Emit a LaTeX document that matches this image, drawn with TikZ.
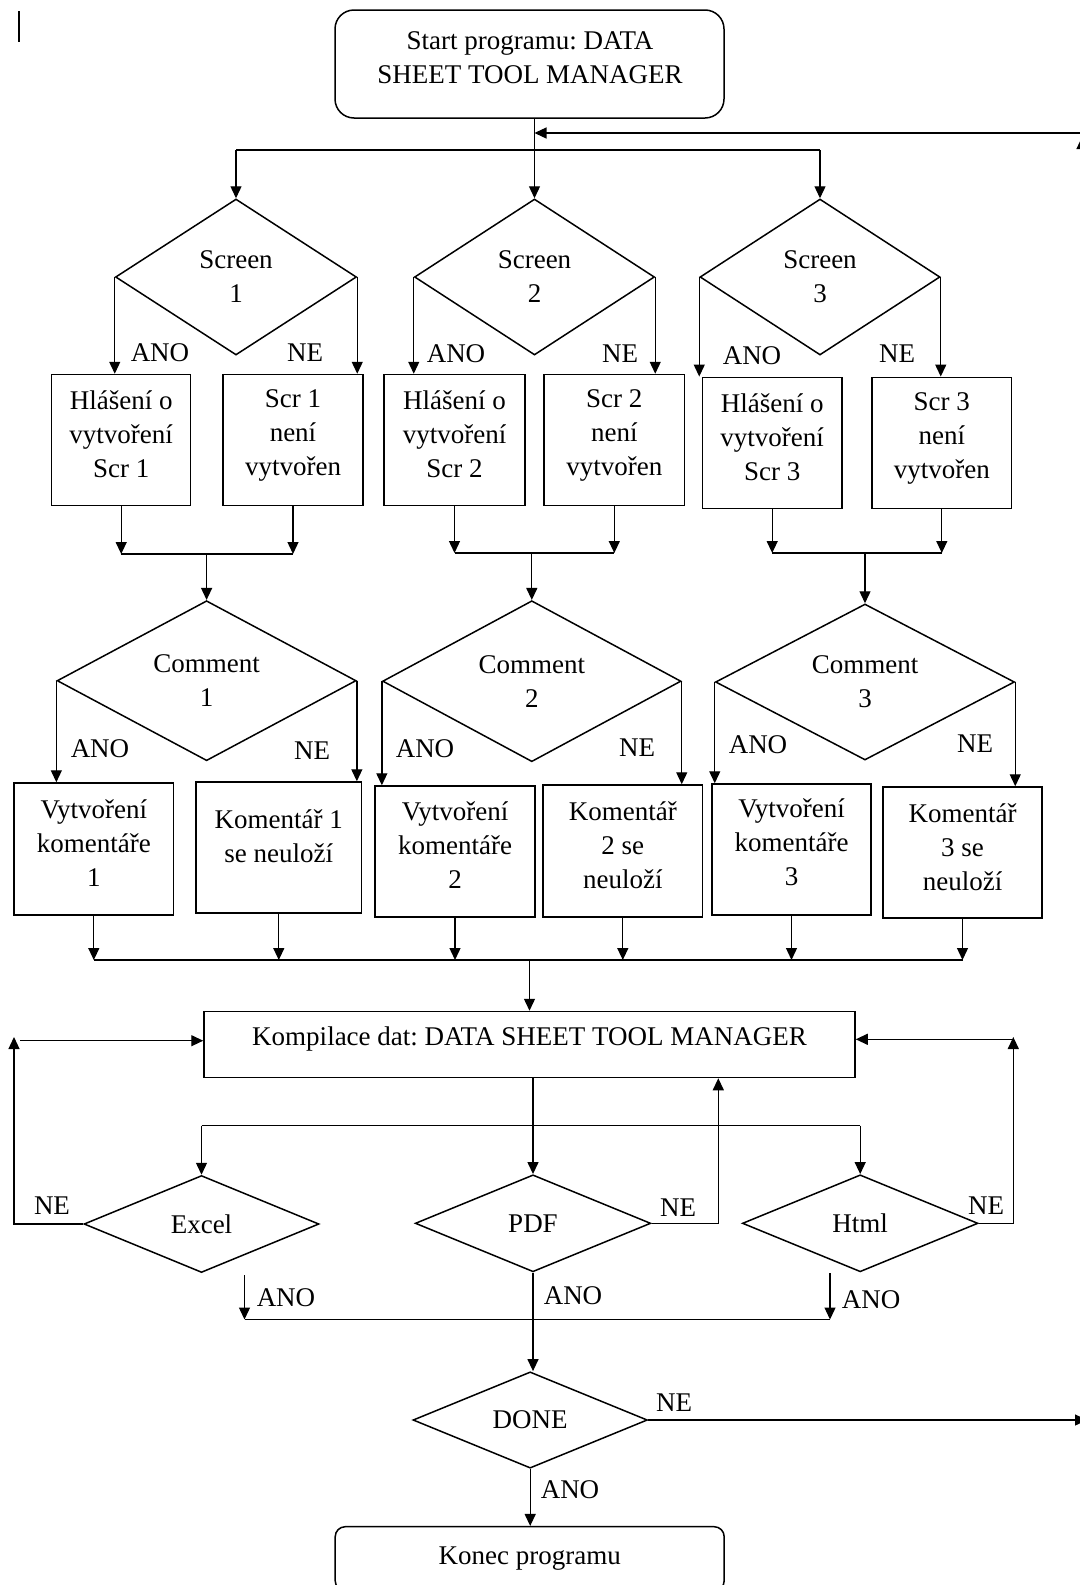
\documentclass[tikz,border=0pt]{standalone}
\usepackage{fontspec}
\setmainfont{Liberation Serif}
\usetikzlibrary{arrows.meta,shapes.geometric}
\frenchspacing
\begin{document}
\begin{tikzpicture}[x=0.5pt,y=-0.5pt,
  font=\fontsize{13.5pt}{17pt}\selectfont,
  ln/.style={line width=0.65pt},
  arr/.style={line width=0.65pt,-{Triangle[length=6pt,width=5.5pt]}},
  boxs/.style 2 args={draw,line width=0.75pt,rectangle,minimum width=#1*0.5pt,minimum height=#2*0.5pt,inner sep=0pt},
  rbox/.style 2 args={boxs={#1}{#2},rounded corners=9.5pt},
  dia/.style 2 args={draw,line width=0.75pt,diamond,aspect=2,inner sep=0pt,minimum width=#1*0.5pt,minimum height=#2*0.5pt,align=center},
  txt/.style={align=center,inner sep=0pt},
  lbl/.style={inner sep=0pt},
]
\useasboundingbox (0,0) rectangle (1080,1585);
\fill[white] (0,0) rectangle (1080,1585);
\clip (0,0) rectangle (1080,1585);

% stray cursor mark
\coordinate (cur1) at (18.5,11);
\coordinate (cur2) at (18.5,42);
\draw[line width=1pt] (cur1) -- (cur2);

% start
\node[rbox={389}{108}] (start) at (529.5,64) {};
\node[txt] (tstart) at (530,57.5) {Start programu: DATA\\SHEET TOOL MANAGER};

% screen diamonds
\node[dia={241}{156}] (s1) at (236,277) {Screen\\1};
\node[dia={240}{156}] (s2) at (534.5,277) {Screen\\2};
\node[dia={240}{156}] (s3) at (820,277) {Screen\\3};

% row 1 boxes
\node[boxs={139}{131}] (b1a) at (121.2,440) {};
\node[txt] (tb1a) at (121.2,434) {Hlášení o\\vytvoření\\Scr 1};
\node[boxs={140}{131}] (b1b) at (293,440) {};
\node[txt] (tb1b) at (293,435) {Scr 1\\není\\vytvořen};
\node[boxs={141}{131}] (b2a) at (454.5,440) {};
\node[txt] (tb2a) at (454.5,434) {Hlášení o\\vytvoření\\Scr 2};
\node[boxs={140.6}{131}] (b2b) at (614.3,440) {};
\node[txt] (tb2b) at (614.3,435) {Scr 2\\není\\vytvořen};
\node[boxs={139.5}{131}] (b3a) at (772.2,442.8) {};
\node[txt] (tb3a) at (772.2,437) {Hlášení o\\vytvoření\\Scr 3};
\node[boxs={139.7}{131}] (b3b) at (941.8,442.8) {};
\node[txt] (tb3b) at (941.8,438) {Scr 3\\není\\vytvořen};

% comment diamonds
\node[dia={299}{160}] (c1) at (206.6,680.7) {Comment\\1};
\node[dia={298.4}{161}] (c2) at (531.8,681.2) {Comment\\2};
\node[dia={299}{156}] (c3) at (865,682) {Comment\\3};

% row 2 boxes
\node[boxs={159.6}{132}] (k1a) at (93.8,849) {};
\node[txt] (tk1a) at (93.8,843) {Vytvoření\\komentáře\\1};
\node[boxs={165.6}{131}] (k1b) at (278.8,847.5) {};
\node[txt] (tk1b) at (278.8,836.5) {Komentář 1\\se neuloží};
\node[boxs={160}{131}] (k2a) at (455,851.5) {};
\node[txt] (tk2a) at (455,845) {Vytvoření\\komentáře\\2};
\node[boxs={159.5}{132}] (k2b) at (622.8,851) {};
\node[txt] (tk2b) at (622.8,845) {Komentář\\2 se\\neuloží};
\node[boxs={159}{131}] (k3a) at (791.5,849.5) {};
\node[txt] (tk3a) at (791.5,842.5) {Vytvoření\\komentáře\\3};
\node[boxs={159}{131}] (k3b) at (962.5,852.5) {};
\node[txt] (tk3b) at (962.5,847) {Komentář\\3 se\\neuloží};

% compilation
\node[boxs={651}{66}] (komp) at (529.5,1044.5) {};
\node[txt] (tkomp) at (529.5,1038.5) {Kompilace dat: DATA SHEET TOOL MANAGER};

% output diamonds
\node[dia={235}{97}] (excel) at (201.5,1224) {Excel};
\node[dia={235.5}{97}] (pdf) at (533,1223.3) {PDF};
\node[dia={235.6}{97}] (html) at (860.2,1223.3) {Html};
\node[dia={234.4}{96.3}] (done) at (530.2,1420) {DONE};

% end
\node[rbox={389}{64},rounded corners=5pt] (konec) at (529.7,1558.7) {Konec programu};

% ---------- labels ----------
\node[lbl] (ls1a) at (160,353) {ANO};
\node[lbl] (ls1n) at (305,353) {NE};
\node[lbl] (ls2a) at (456,354) {ANO};
\node[lbl] (ls2n) at (620,354) {NE};
\node[lbl] (ls3a) at (752,356) {ANO};
\node[lbl] (ls3n) at (897,354) {NE};
\node[lbl] (lc1a) at (100,749) {ANO};
\node[lbl] (lc1n) at (312,751) {NE};
\node[lbl] (lc2a) at (425,749) {ANO};
\node[lbl] (lc2n) at (637,748) {NE};
\node[lbl] (lc3a) at (758,745) {ANO};
\node[lbl] (lc3n) at (975,744) {NE};
\node[lbl] (lexn) at (52,1206) {NE};
\node[lbl] (lpdn) at (678,1208) {NE};
\node[lbl] (lhtn) at (986,1206) {NE};
\node[lbl] (lexa) at (286,1298) {ANO};
\node[lbl] (lpda) at (573,1296) {ANO};
\node[lbl] (lhta) at (871,1300) {ANO};
\node[lbl] (ldnn) at (674,1403) {NE};
\node[lbl] (ldna) at (570,1490) {ANO};

% ---------- connectors ----------
\coordinate (d1) at (0,150);
\draw[arr] (s2.north |- start.south) -- (s2.north);
\draw[ln] (s1.north |- d1) -- (s3.north |- d1);
\draw[arr] (s1.north |- d1) -- (s1.north);
\draw[arr] (s3.north |- d1) -- (s3.north);

% loop back from DONE (runs off the right edge)
\coordinate (fbR) at (1082,133);
\draw[arr] (fbR) -- (fbR -| s2.north);
\coordinate (upB) at (1082,1420);
\coordinate (upT) at (1082,137);
\draw[arr] (upB) -- (upT);
\coordinate (doneR) at (1087,1420);
\draw[arr] (done.east) -- (doneR);

% screen branches
\draw[arr] (s1.west) -- (s1.west |- b1a.north);
\draw[arr] (s1.east) -- (s1.east |- b1b.north);
\draw[arr] (s2.west) -- (s2.west |- b2a.north);
\draw[arr] (s2.east) -- (s2.east |- b2b.north);
\draw[arr] (s3.west) -- (s3.west |- b3a.north);
\draw[arr] (s3.east) -- (s3.east |- b3b.north);

% row 1 joins
\coordinate (j1) at (0,554);
\draw[arr] (b1a.south) -- (b1a.south |- j1);
\draw[arr] (b1b.south) -- (b1b.south |- j1);
\draw[ln] (b1a.south |- j1) -- (b1b.south |- j1);
\draw[arr] (c1.north |- j1) -- (c1.north);
\coordinate (j2) at (0,553);
\draw[arr] (b2a.south) -- (b2a.south |- j2);
\draw[arr] (b2b.south) -- (b2b.south |- j2);
\draw[ln] (b2a.south |- j2) -- (b2b.south |- j2);
\draw[arr] (c2.north |- j2) -- (c2.north);
\draw[arr] (b3a.south) -- (b3a.south |- j2);
\draw[arr] (b3b.south) -- (b3b.south |- j2);
\draw[ln] (b3a.south |- j2) -- (b3b.south |- j2);
\draw[arr] (c3.north |- j2) -- (c3.north);

% comment branches
\draw[arr] (c1.west) -- (c1.west |- k1a.north);
\draw[arr] (c1.east) -- (c1.east |- k1b.north);
\draw[arr] (c2.west) -- (c2.west |- k2a.north);
\draw[arr] (c2.east) -- (c2.east |- k2b.north);
\draw[arr] (c3.west) -- (c3.west |- k3a.north);
\draw[arr] (c3.east) -- (c3.east |- k3b.north);

% row 2 join
\coordinate (j4) at (0,960);
\foreach \k in {k1a,k1b,k2a,k2b,k3a,k3b}{
  \draw[arr] (\k.south) -- (\k.south |- j4);
}
\draw[ln] (k1a.south |- j4) -- (k3b.south |- j4);
\draw[arr] (komp.north |- j4) -- (komp.north);

% compilation to outputs
\coordinate (j5) at (0,1125.7);
\draw[arr] (pdf.north |- komp.south) -- (pdf.north);
\draw[ln] (excel.north |- j5) -- (html.north |- j5);
\draw[arr] (excel.north |- j5) -- (excel.north);
\draw[arr] (html.north |- j5) -- (html.north);

% NE loops back to compilation
\coordinate (kinL) at (14,1037);
\draw[arr] (excel.west) -| (kinL);
\coordinate (kinL2) at (20,1040.7);
\draw[arr] (kinL2) -- (kinL2 -| komp.west);
\coordinate (kinR) at (1013.3,1037);
\draw[arr] (html.east) -| (kinR);
\coordinate (kinR2) at (1013.3,1039.3);
\draw[arr] (kinR2) -- (kinR2 -| komp.east);
\coordinate (px) at (718.3,0);
\draw[arr] (pdf.east) -| (px |- komp.south);

% ANO joins
\coordinate (exA) at (244.5,1275);
\coordinate (htA) at (830,1273);
\coordinate (j6) at (0,1319.5);
\draw[arr] (exA) -- (exA |- j6);
\draw[arr] (htA) -- (htA |- j6);
\draw[ln] (exA |- j6) -- (htA |- j6);
\draw[arr] (pdf.south) -- (pdf.south |- done.north);

% done to end
\draw[arr] (done.south) -- (done.south |- konec.north);
\end{tikzpicture}
\end{document}
